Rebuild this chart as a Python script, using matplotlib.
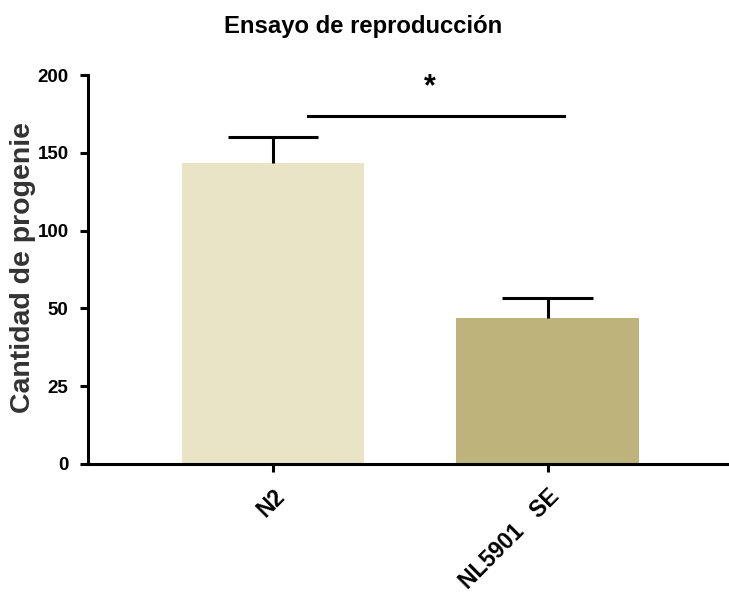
import matplotlib
matplotlib.use("Agg")
import matplotlib.pyplot as plt
import numpy as np

plt.rcParams['font.family'] = ['Liberation Sans', 'DejaVu Sans']

strains = ["N2", "NL5901   SE"]
means = [143.6, 46.8]
sems = [16.7, 10.2]
colors = ["#EAE4C7", "#BEB37A"]
ytick_values = [0, 25, 50, 100, 150, 200]

# segmented y axis: each tick interval gets the same height
seg_vals = np.array(ytick_values, dtype=float)
seg_pos = np.arange(len(seg_vals), dtype=float)

def fwd(y):
    return np.interp(y, seg_vals, seg_pos)

def inv(p):
    return np.interp(p, seg_pos, seg_vals)

fig = plt.figure(figsize=(7.29, 5.96), dpi=100)
ax = fig.add_axes([0.1207, 0.2215, 0.8793, 0.6525])
ax.set_yscale('function', functions=(fwd, inv))

x = np.arange(len(strains))
ax.bar(x, means, width=0.665, color=colors, zorder=2)

# upper-only error bars (mean + SEM)
tops = np.array(means) + np.array(sems)
ax.vlines(x, means, tops, color='black', lw=2.2, zorder=3)
ax.hlines(tops, x - 0.165, x + 0.165, color='black', lw=2.2, zorder=3)

# significance bar
ax.plot([0.128, 1.058], [174, 174], color='black', lw=2.2, clip_on=False)
ax.text(0.57, 192, "*", ha='center', va='center', fontsize=22,
        fontweight='bold')

ax.set_xlim(-0.673, 1.66)
ax.set_ylim(0, 200)
ax.set_yticks(ytick_values)
ax.set_yticklabels([str(v) for v in ytick_values], fontsize=13.5,
                   fontweight='bold')
ax.set_xticks(x)
ax.set_xticklabels(strains, rotation=45, ha='right', rotation_mode='anchor',
                   fontsize=16.5, fontweight='bold')
ax.yaxis.set_minor_locator(matplotlib.ticker.NullLocator())

for side in ['top', 'right']:
    ax.spines[side].set_visible(False)
for side in ['left', 'bottom']:
    ax.spines[side].set_linewidth(2.2)
ax.tick_params(axis='both', width=2.2, length=6)
ax.tick_params(axis='y', pad=8)
ax.tick_params(axis='x', pad=9)

ax.set_ylabel("Cantidad de progenie", fontsize=20.5, fontweight='bold',
              color='#333333')
ax.yaxis.set_label_coords(-0.081, 0.506)
fig.text(0.4976, 0.955, "Ensayo de reproducción", ha='center', va='center',
         fontsize=17.2, fontweight='bold')

fig.savefig("out.png", dpi=100)
